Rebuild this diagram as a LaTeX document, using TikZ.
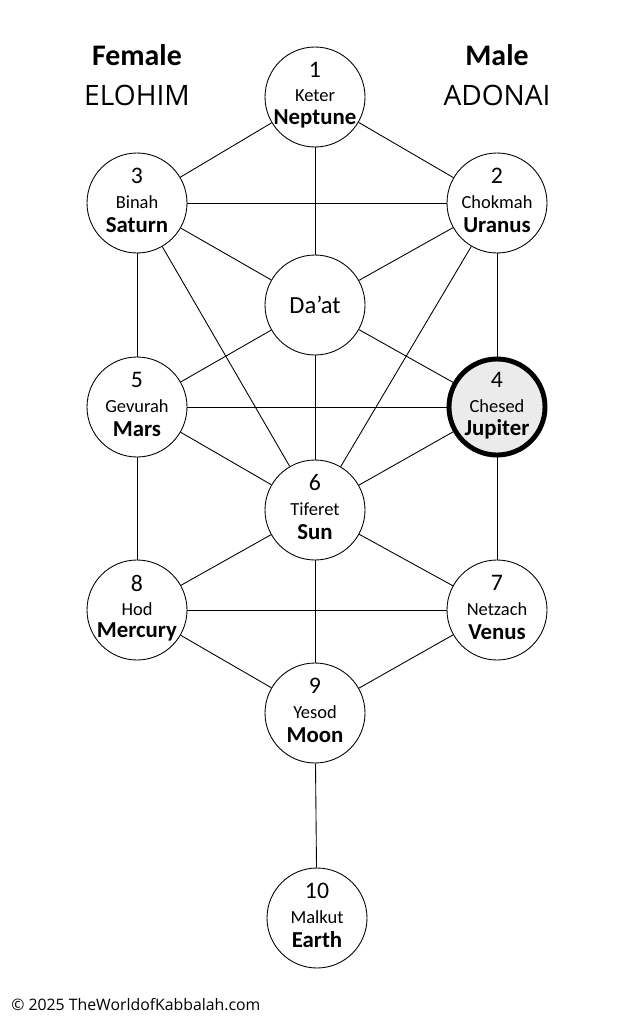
\documentclass[tikz,border=0pt]{standalone}
\usepackage{fontspec}
\setmainfont{Carlito}
\newfontfamily\opensans{Open Sans}

\tikzset{
  sefira/.style={circle, draw, line width=0.5pt, minimum size=100*0.02cm, inner sep=0pt, fill=white},
  numtxt/.style={font=\fontsize{13.5}{15}\selectfont},
  hebtxt/.style={font=\fontsize{10.5}{12}\selectfont},
  planettxt/.style={font=\bfseries\fontsize{13}{15}\selectfont},
  path/.style={line width=0.5pt},
}

\begin{document}
\begin{tikzpicture}[x=0.02cm,y=-0.02cm]
\useasboundingbox (0,0) rectangle (633,1024);
% the sefirot
\foreach \n/\x/\y in {keter/315/97, binah/137/203, chokmah/497/203, daat/315/305,
  gevurah/137/407, tiferet/315/510, hod/137/610, netzach/497/610, yesod/315/713, malkut/317/918}{
  \node[sefira] (\n) at (\x,\y) {};
}
\node[sefira, fill=gray!16, line width=2.8pt, minimum size=96*0.02cm] (chesed) at (497,407) {};
% paths
\foreach \a/\b in {keter/binah, keter/chokmah, keter/daat, binah/chokmah, binah/daat,
  binah/gevurah, binah/tiferet, chokmah/daat, chokmah/chesed, chokmah/tiferet,
  daat/gevurah, daat/chesed, daat/tiferet, gevurah/chesed, gevurah/tiferet, gevurah/hod,
  chesed/tiferet, chesed/netzach, tiferet/hod, tiferet/netzach, tiferet/yesod,
  hod/netzach, hod/yesod, netzach/yesod, yesod/malkut}{
  \draw[path] (\a) -- (\b);
}
% labels
\foreach \n/\x/\y/\num/\heb/\pl in {keter/315/97/1/Keter/Neptune, binah/137/203/3/Binah/Saturn,
  chokmah/497/203/2/Chokmah/Uranus, gevurah/137/407/5/Gevurah/Mars, chesed/497/407/4/Chesed/Jupiter,
  tiferet/315/510/6/Tiferet/Sun, hod/137/610/8/Hod/Mercury, netzach/497/610/7/Netzach/Venus,
  yesod/315/713/9/Yesod/Moon, malkut/317/918/10/Malkut/Earth}{
  \node[numtxt] (\n-num) at (\x,\y-27) {\num};
  \node[hebtxt] (\n-heb) at (\x,\y-1) {\heb};
  \node[planettxt] (\n-pl) at (\x,\y+22) {\pl};
}
\node[font=\fontsize{14}{16}\selectfont] (daat-txt) at (315,305) {Da’at};
\node[font=\bfseries\fontsize{17}{20}\selectfont] (female) at (137,55) {Female};
\node[font=\opensans\fontsize{16}{19}\selectfont] (elohim) at (137,95) {ELOHIM};
\node[font=\bfseries\fontsize{17}{20}\selectfont] (male) at (497,55) {Male};
\node[font=\opensans\fontsize{16}{19}\selectfont] (adonai) at (497,95) {ADONAI};
\node[font=\opensans\fontsize{9}{11}\selectfont, anchor=west, inner sep=0pt] (copy) at (11,1005) {© 2025 TheWorldofKabbalah.com};
\end{tikzpicture}
\end{document}
